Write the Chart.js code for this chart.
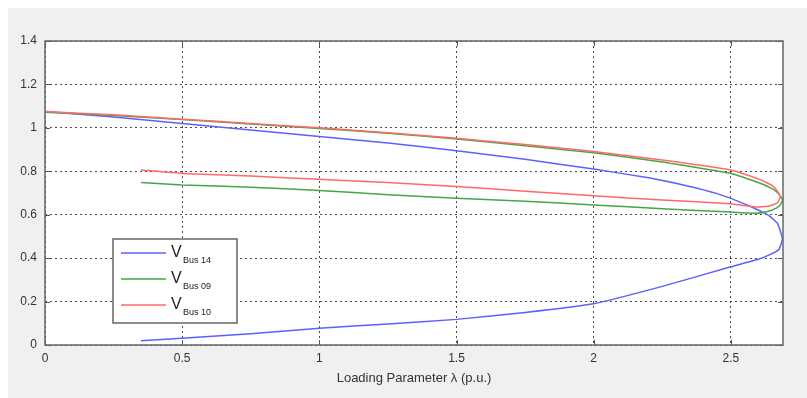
<!DOCTYPE html>
<html>
<head>
<meta charset="utf-8">
<script src="https://cdn.jsdelivr.net/npm/chart.js@4"></script>
<style>
  html, body { margin: 0; padding: 0; background: #fff; }
  #wrap { width: 807px; height: 398px; }
</style>
</head>
<body>
<div id="wrap"><canvas id="pv" width="807" height="398"></canvas></div>
<script>
// values (lambda in p.u., voltage in p.u.)
const bus14Lambda = [0, 0.25, 0.5, 0.75, 1.0, 1.25, 1.5, 1.75, 2.0, 2.2, 2.35, 2.45, 2.52, 2.58, 2.64, 2.67, 2.688, 2.675, 2.64, 2.6, 2.5, 2.25, 2.0, 1.75, 1.5, 1.25, 1.0, 0.75, 0.5, 0.35];
const bus14V = [1.075, 1.05, 1.02, 0.99, 0.96, 0.93, 0.895, 0.855, 0.81, 0.77, 0.73, 0.697, 0.665, 0.633, 0.595, 0.56, 0.49, 0.44, 0.415, 0.395, 0.36, 0.27, 0.19, 0.15, 0.118, 0.097, 0.077, 0.052, 0.031, 0.02];

const bus09Lambda = [0, 0.25, 0.5, 0.75, 1.0, 1.25, 1.5, 1.75, 2.0, 2.25, 2.5, 2.6, 2.65, 2.675, 2.688, 2.68, 2.66, 2.63, 2.59, 2.5, 2.25, 2.0, 1.75, 1.5, 1.25, 1.0, 0.75, 0.5, 0.35];
const bus09V = [1.072, 1.057, 1.038, 1.018, 0.997, 0.975, 0.949, 0.918, 0.885, 0.843, 0.79, 0.748, 0.72, 0.695, 0.668, 0.645, 0.627, 0.614, 0.607, 0.612, 0.628, 0.645, 0.662, 0.676, 0.692, 0.712, 0.727, 0.737, 0.748];

const bus10Lambda = [0, 0.25, 0.5, 0.75, 1.0, 1.25, 1.5, 1.75, 2.0, 2.25, 2.5, 2.6, 2.65, 2.67, 2.68, 2.67, 2.64, 2.59, 2.5, 2.25, 2.0, 1.75, 1.5, 1.25, 1.0, 0.75, 0.5, 0.35];
const bus10V = [1.075, 1.06, 1.04, 1.02, 1.0, 0.978, 0.952, 0.923, 0.891, 0.852, 0.806, 0.765, 0.735, 0.708, 0.683, 0.655, 0.64, 0.635, 0.65, 0.668, 0.687, 0.708, 0.73, 0.748, 0.763, 0.778, 0.79, 0.806];

const legendSubs = ['Bus 14', 'Bus 09', 'Bus 10'];
const colors = ['rgb(95,95,255)', 'rgb(70,165,70)', 'rgb(255,105,105)'];

function pts(xs, ys) {
  return xs.map((x, i) => ({ x: x, y: ys[i] }));
}

const FONT = '"Liberation Sans", Arial, sans-serif';

// grey window, white plot, box + inward ticks, custom legend with subscripts
const matlabLook = {
  id: 'matlabLook',
  beforeDraw(chart) {
    const c = chart.ctx, a = chart.chartArea;
    c.save();
    c.fillStyle = '#fff';
    c.fillRect(0, 0, chart.width, chart.height);
    c.fillStyle = '#f0f0f0';
    c.fillRect(8, 8, chart.width - 8, chart.height - 8);
    c.fillStyle = '#fff';
    c.fillRect(a.left, a.top, a.right - a.left, a.bottom - a.top);
    c.restore();
  },
  afterDraw(chart) {
    const c = chart.ctx, a = chart.chartArea;
    const xs = chart.scales.x, ys = chart.scales.y;
    c.save();
    c.strokeStyle = '#555';
    c.lineWidth = 1;
    c.beginPath();
    xs.ticks.forEach(t => {
      const px = Math.round(xs.getPixelForValue(t.value)) + 0.5;
      c.moveTo(px, a.bottom); c.lineTo(px, a.bottom - 5);
      c.moveTo(px, a.top); c.lineTo(px, a.top + 5);
    });
    ys.ticks.forEach(t => {
      const py = Math.round(ys.getPixelForValue(t.value)) + 0.5;
      c.moveTo(a.left, py); c.lineTo(a.left + 5, py);
      c.moveTo(a.right, py); c.lineTo(a.right - 5, py);
    });
    c.stroke();
    c.lineWidth = 1.5;
    c.strokeStyle = '#666';
    c.strokeRect(a.left, a.top, a.right - a.left, a.bottom - a.top);

    // legend
    const lx = a.left + 68, ly = a.top + 198, lw = 124, lh = 84;
    c.fillStyle = '#fff';
    c.fillRect(lx, ly, lw, lh);
    c.lineWidth = 1.5;
    c.strokeStyle = '#666';
    c.strokeRect(lx, ly, lw, lh);
    chart.data.datasets.forEach((ds, i) => {
      const y = ly + 14 + i * 26;
      c.strokeStyle = ds.borderColor;
      c.lineWidth = 1.5;
      c.beginPath();
      c.moveTo(lx + 8, y); c.lineTo(lx + 53, y);
      c.stroke();
      c.fillStyle = '#222';
      c.textBaseline = 'alphabetic';
      c.font = '16px ' + FONT;
      c.fillText('V', lx + 58, y + 4);
      c.font = '9px ' + FONT;
      c.fillText(legendSubs[i], lx + 70, y + 10);
    });
    c.restore();
  }
};

new Chart(document.getElementById('pv'), {
  type: 'scatter',
  data: {
    datasets: [
      { label: 'V Bus 14', data: pts(bus14Lambda, bus14V), borderColor: colors[0], order: 2 },
      { label: 'V Bus 09', data: pts(bus09Lambda, bus09V), borderColor: colors[1], order: 1 },
      { label: 'V Bus 10', data: pts(bus10Lambda, bus10V), borderColor: colors[2], order: 0 }
    ]
  },
  options: {
    responsive: false,
    animation: false,
    showLine: true,
    layout: { padding: { top: 41, right: 24, left: 0, bottom: 0 } },
    elements: {
      point: { radius: 0, hoverRadius: 0 },
      line: { borderWidth: 1.5, tension: 0.12, fill: false }
    },
    plugins: {
      legend: { display: false },
      tooltip: { enabled: false }
    },
    scales: {
      x: {
        type: 'linear',
        min: 0,
        max: 2.69,
        afterFit: s => { s.height = 53; },
        afterBuildTicks: s => {
          s.ticks = s.ticks.filter(t => Math.abs(t.value * 2 - Math.round(t.value * 2)) < 1e-6);
        },
        ticks: {
          stepSize: 0.5,
          padding: 6,
          color: '#333',
          font: { family: FONT, size: 12 },
          callback: v => String(v)
        },
        grid: { color: 'rgba(0,0,0,0.7)', lineWidth: 1, drawTicks: false },
        border: { display: false, dash: [2, 3] },
        title: {
          display: true,
          text: 'Loading Parameter λ (p.u.)',
          color: '#333',
          font: { family: FONT, size: 13 },
          padding: { top: 4, bottom: 12 }
        }
      },
      y: {
        min: 0,
        max: 1.4,
        afterFit: s => { s.width = 45; },
        ticks: {
          stepSize: 0.2,
          padding: 8,
          color: '#333',
          font: { family: FONT, size: 12 },
          callback: v => String(Math.round(v * 10) / 10)
        },
        grid: { color: 'rgba(0,0,0,0.7)', lineWidth: 1, drawTicks: false },
        border: { display: false, dash: [2, 3] }
      }
    }
  },
  plugins: [matlabLook]
});
</script>
</body>
</html>
